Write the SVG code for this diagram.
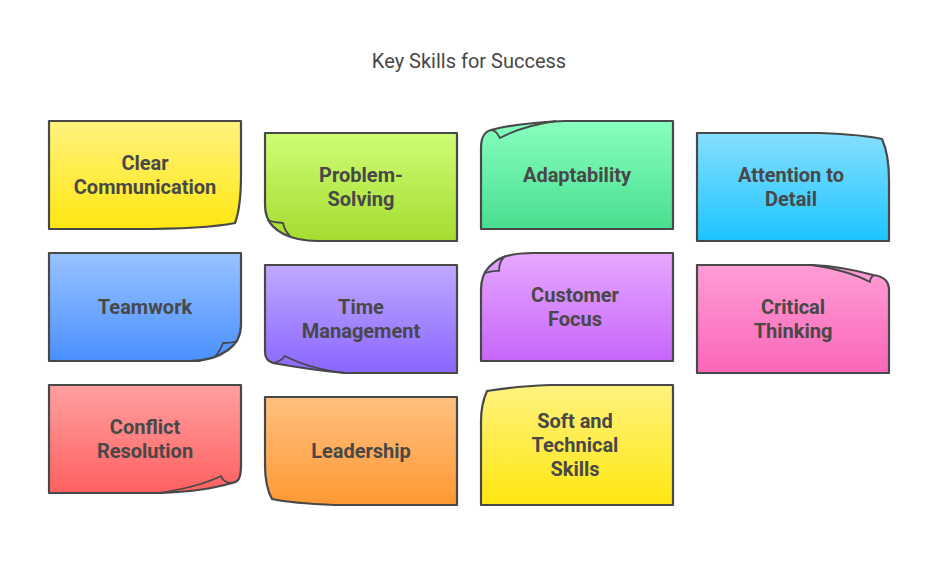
<svg xmlns="http://www.w3.org/2000/svg" width="938" height="579" viewBox="0 0 938 579">
<style>
.s{stroke:#484848;stroke-width:2.2;stroke-linejoin:round}
.f{fill:none;stroke:#484848;stroke-width:1.8;stroke-linejoin:round}
text{font-family:Roboto,"Liberation Sans",sans-serif;fill:#484848;text-anchor:middle}
.l{font-size:20px;font-weight:700}
.t{font-size:20px;font-weight:400}
</style>
<defs>
<linearGradient id="yellow" x1="0" y1="0" x2="0" y2="1"><stop offset="0" stop-color="#FFF27F"/><stop offset="1" stop-color="#FFE711"/></linearGradient>
<linearGradient id="lime" x1="0" y1="0" x2="0" y2="1"><stop offset="0" stop-color="#CFFC75"/><stop offset="1" stop-color="#A5DC30"/></linearGradient>
<linearGradient id="mint" x1="0" y1="0" x2="0" y2="1"><stop offset="0" stop-color="#87FFBF"/><stop offset="1" stop-color="#4ADE90"/></linearGradient>
<linearGradient id="sky" x1="0" y1="0" x2="0" y2="1"><stop offset="0" stop-color="#86DFFF"/><stop offset="1" stop-color="#1CC4FF"/></linearGradient>
<linearGradient id="blue" x1="0" y1="0" x2="0" y2="1"><stop offset="0" stop-color="#99C2FF"/><stop offset="1" stop-color="#4A90FF"/></linearGradient>
<linearGradient id="indigo" x1="0" y1="0" x2="0" y2="1"><stop offset="0" stop-color="#BFA8FF"/><stop offset="1" stop-color="#8A66FF"/></linearGradient>
<linearGradient id="violet" x1="0" y1="0" x2="0" y2="1"><stop offset="0" stop-color="#E6A8FF"/><stop offset="1" stop-color="#C766FA"/></linearGradient>
<linearGradient id="pink" x1="0" y1="0" x2="0" y2="1"><stop offset="0" stop-color="#FF9DD6"/><stop offset="1" stop-color="#FA66B8"/></linearGradient>
<linearGradient id="red" x1="0" y1="0" x2="0" y2="1"><stop offset="0" stop-color="#FFA0A0"/><stop offset="1" stop-color="#FF6060"/></linearGradient>
<linearGradient id="orange" x1="0" y1="0" x2="0" y2="1"><stop offset="0" stop-color="#FFC080"/><stop offset="1" stop-color="#FF9933"/></linearGradient>
</defs>
<rect width="938" height="579" fill="#fff"/>
<text id="title" class="t" x="469" y="68">Key Skills for Success</text>

<g id="clear-communication">
<path class="s" fill="url(#yellow)" d="M49 121H241V175C241 195 240 210 235 223C210 228 170 229 135 229H49Z"/>
<text class="l" x="145" y="170">Clear</text><text class="l" x="145" y="194">Communication</text>
</g>
<g id="problem-solving">
<path class="s" fill="url(#lime)" d="M265 133H457V241H317C308 241 303 240 298 239C285 236 265 228 265 205Z"/>
<path class="f" d="M267 220C272 222 278 223 283 223C284 228 286 232 290 236"/>
<text class="l" x="361" y="182">Problem-</text><text class="l" x="361" y="206">Solving</text>
</g>
<g id="adaptability">
<path class="s" fill="url(#mint)" d="M673 121V229H481V148C481 137 484 132 491 130C510 125 535 122 565 121Z"/>
<path class="f" d="M491 130C495 130 497 133 500 138C515 130 535 124 556 121"/>
<text class="l" x="577" y="182">Adaptability</text>
</g>
<g id="attention-to-detail">
<path class="s" fill="url(#sky)" d="M697 133H820C845 134 865 135 882 139C887 150 889 165 889 180V241H697Z"/>
<text class="l" x="791" y="182">Attention to</text><text class="l" x="791" y="206">Detail</text>
</g>
<g id="teamwork">
<path class="s" fill="url(#blue)" d="M49 253H241V325C241 338 235 345 228 350C220 356 210 361 190 361H49Z"/>
<path class="f" d="M238 341C232 343 228 343 223 343C221 349 218 353 215 357"/>
<text class="l" x="145" y="314">Teamwork</text>
</g>
<g id="time-management">
<path class="s" fill="url(#indigo)" d="M265 265H457V373H345C320 371 295 367 273 363C267 361 265 357 265 352Z"/>
<path class="f" d="M273 363C278 362 282 360 285 356C300 364 320 370 345 373"/>
<text class="l" x="361" y="314">Time</text><text class="l" x="361" y="338">Management</text>
</g>
<g id="customer-focus">
<path class="s" fill="url(#violet)" d="M673 253V361H481V290C481 277 485 271 489 267C495 261 502 253 533 253Z"/>
<path class="f" d="M484 273C490 272 495 270 499 271C499 266 500 261 504 257"/>
<text class="l" x="575" y="302">Customer</text><text class="l" x="575" y="326">Focus</text>
</g>
<g id="critical-thinking">
<path class="s" fill="url(#pink)" d="M697 265H812C835 266 855 270 873 275C882 276 889 280 889 290V373H697Z"/>
<path class="f" d="M812 265C832 268 853 273 870 282C870 279 871 277 874 275"/>
<text class="l" x="793" y="314">Critical</text><text class="l" x="793" y="338">Thinking</text>
</g>
<g id="conflict-resolution">
<path class="s" fill="url(#red)" d="M49 385H241V465C241 479 238 482 232 483C212 489 190 492 160 493H49Z"/>
<path class="f" d="M232 483C227 483 223 481 221 476C205 484 185 489 160 493"/>
<text class="l" x="145" y="434">Conflict</text><text class="l" x="145" y="458">Resolution</text>
</g>
<g id="leadership">
<path class="s" fill="url(#orange)" d="M265 397H457V505H335C310 504 290 503 272 499C267 490 265 480 265 465Z"/>
<text class="l" x="361" y="458">Leadership</text>
</g>
<g id="soft-and-technical-skills">
<path class="s" fill="url(#yellow)" d="M673 385V505H481V421C481 410 483 400 487 391C505 388 525 386 550 385Z"/>
<text class="l" x="575" y="428">Soft and</text><text class="l" x="575" y="452">Technical</text><text class="l" x="575" y="476">Skills</text>
</g>
</svg>
